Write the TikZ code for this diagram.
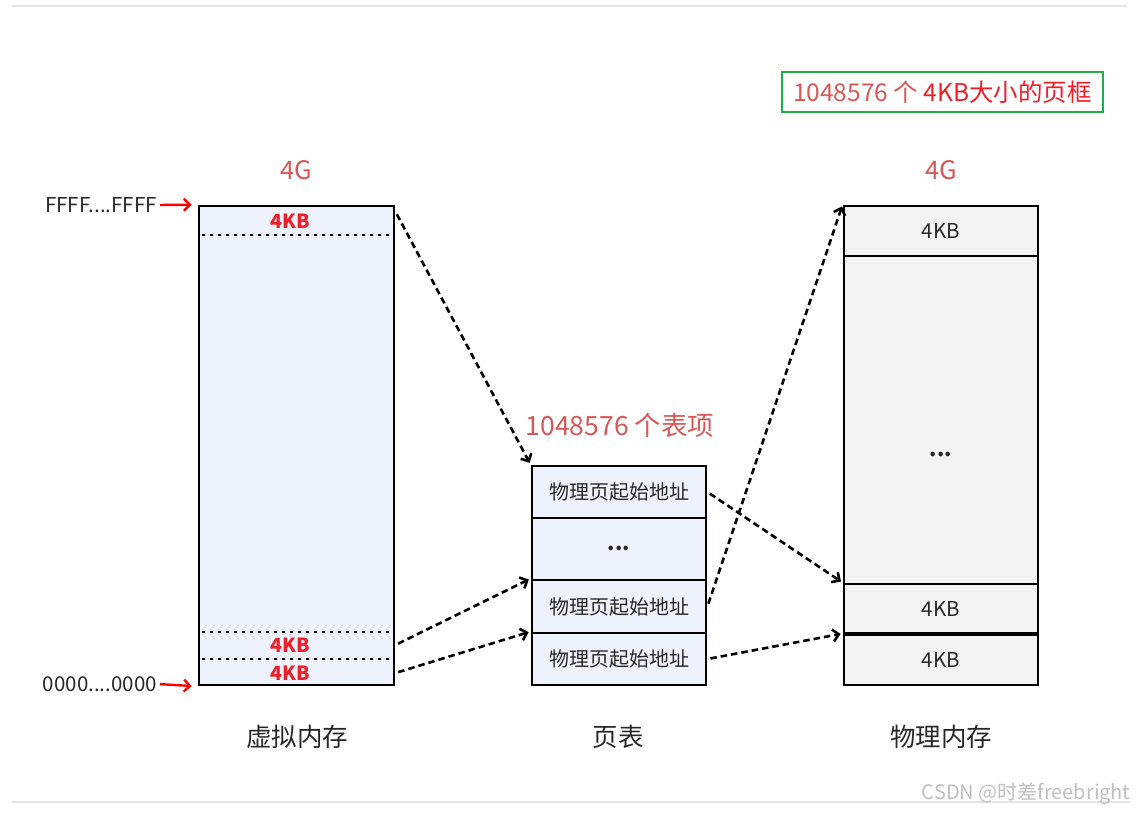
\documentclass[tikz,border=0pt]{standalone}
\usepackage{fontspec}
\setmainfont{Noto Sans CJK SC}
\usetikzlibrary{arrows.meta}
\definecolor{vmFill}{RGB}{238,242,252}
\definecolor{pmFill}{RGB}{243,243,243}
\definecolor{noteRed}{RGB}{214,88,86}
\definecolor{kbRed}{RGB}{240,30,40}
\definecolor{boxGreen}{RGB}{34,172,70}
\definecolor{ruleGray}{RGB}{228,228,228}
\definecolor{inkGray}{RGB}{40,40,40}
\newcommand{\pgFont}[1]{\fontsize{#1}{#1}\selectfont}

\begin{document}
\begin{tikzpicture}[x=1pt,y=-1pt,
  cell/.style={draw, line width=2.8pt, inner sep=0pt, rectangle, text=inkGray},
  vmcell/.style={cell, fill=vmFill},
  ptcell/.style={cell, fill=vmFill, minimum width=174pt, font=\pgFont{20}},
  pmcell/.style={cell, fill=pmFill, minimum width=194pt, font=\pgFont{20.5}},
  dotrule/.style={line width=2.8pt, dash pattern=on 2.6pt off 5.4pt},
  link/.style={draw, line width=2.6pt, dash pattern=on 6.5pt off 4pt, -{Straight Barb[length=6pt,width=12pt]}, shorten <=3pt, shorten >=2pt},
  addrlink/.style={draw=red, line width=2.4pt, -{Straight Barb[length=6pt,width=12pt]}, shorten >=6pt, shorten <=2pt},
  caption/.style={font=\pgFont{25.5}, text=inkGray},
  sizeNote/.style={font=\pgFont{25.5}, text=noteRed},
  kbNote/.style={font=\bfseries\pgFont{19.5}, text=kbRed, inner sep=0pt},
  ellip/.style={font=\bfseries\pgFont{21}, text=inkGray, inner sep=0pt},
  addr/.style={font=\pgFont{20.5}, text=inkGray, anchor=east, inner sep=1pt}]
\useasboundingbox (0,0) rectangle (1137,813);
% page rules
\draw[ruleGray, line width=2.5pt] (12,6) -- (1127,6);
\draw[ruleGray, line width=2.5pt] (12,802) -- (1130,802);

% virtual memory
\node[vmcell, minimum width=195pt, minimum height=479pt] (vm) at (296.5,445.5) {};
\draw[dotrule] (202,235) -- (391,235);
\draw[dotrule] (202,632) -- (391,632);
\draw[dotrule] (202,659) -- (391,659);
\node[kbNote] (kbTop) at (290,221) {4KB};
\node[kbNote] (kbOne) at (290,645) {4KB};
\node[kbNote] (kbZero) at (290,673) {4KB};
\node[sizeNote] (vmSize) at (296,170) {4G};
\node[caption] (vmName) at (297,737) {虚拟内存};
\node[addr] (addrHigh) at (158,205) {FFFF....FFFF};
\node[addr] (addrLow) at (158,684) {0000....0000};
\draw[addrlink] (addrHigh.east) -- (vm.north west);
\draw[addrlink] (addrLow.east) -- (vm.south west);

% page table
\node[ptcell, minimum height=52pt] (ptOne) at (619,492) {物理页起始地址};
\node[ptcell, minimum height=62pt] (ptDots) at (619,549) {};
\node[ellip] (ptEllip) at (619,548) {...};
\node[ptcell, minimum height=53pt] (ptTwo) at (619,606.5) {物理页起始地址};
\node[ptcell, minimum height=52pt] (ptThree) at (619,659) {物理页起始地址};
\node[sizeNote, font=\pgFont{26.5}] (ptSize) at (620,425) {1048576 个表项};
\node[caption] (ptName) at (618,737) {页表};

% physical memory
\node[pmcell, minimum height=50pt] (pmTop) at (941,231) {4KB};
\node[pmcell, minimum height=328pt] (pmMid) at (941,420) {};
\node[ellip] (pmEllip) at (941,454) {...};
\node[pmcell, minimum height=49pt] (pmOne) at (941,608.5) {4KB};
\node[pmcell, minimum height=50pt] (pmZero) at (941,660) {4KB};
\node[sizeNote] (pmSize) at (941,170) {4G};
\node[caption] (pmName) at (941,737) {物理内存};
\node[draw=boxGreen, line width=2.8pt, minimum width=321pt, minimum height=40pt, inner sep=0pt, font=\pgFont{24.5}] (frameNote) at (942.5,92) {\textcolor{noteRed}{1048576 个} \textcolor{kbRed}{4KB大小的页框}};

% mappings
\draw[link] ([yshift=-7pt]vm.north east) -- (ptOne.north west);
\draw[link] (vm.east |- kbOne) -- (ptTwo.north west);
\draw[link] (vm.east |- kbZero) -- (ptThree.north west);
\draw[link] (ptOne.east) -- (pmOne.north west);
\draw[link] (ptTwo.east) -- (pmTop.north west);
\draw[link] (ptThree.east) -- (pmZero.north west);

\node[font=\pgFont{20}, text=black!25, anchor=east] (mark) at (1134,794) {CSDN @时差freebright};
\end{tikzpicture}
\end{document}
